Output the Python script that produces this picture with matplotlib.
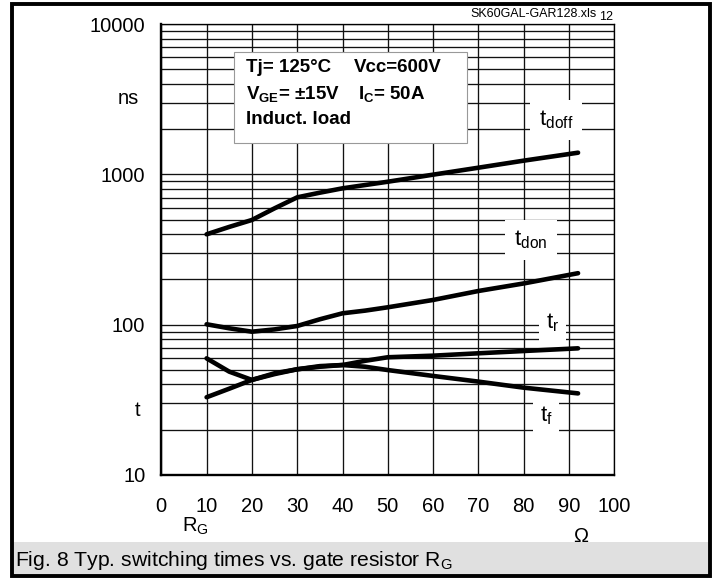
import matplotlib
matplotlib.use('Agg')
import matplotlib.pyplot as plt
from matplotlib.patches import Rectangle
from matplotlib.ticker import LogLocator, NullFormatter

# Data (R_G in Ohm, times in ns)
rg_doff = [10, 15, 20, 25, 30, 35, 40, 50, 60, 70, 80, 92]
t_doff = [399, 447, 497, 594, 703, 755, 807, 893, 995, 1107, 1233, 1393]

rg_don = [10, 15, 20, 25, 30, 35, 40, 45, 50, 60, 70, 80, 92]
t_don = [100.6, 94.6, 89.8, 93, 98, 108.6, 119, 124, 130.5, 146, 167.5, 188, 220]

rg_rf = [10, 15, 20, 25, 30, 35, 40, 45, 50, 60, 70, 80, 92]
t_r = [32.9, 37.5, 42.9, 46.9, 50.5, 52.5, 53.9, 57.5, 60.7, 62.2, 64.5, 66.8, 69.6]
t_f = [59.7, 48.7, 42.9, 47.5, 50.5, 53, 53.9, 52.5, 49.9, 45.6, 41.8, 38.1, 34.9]

x_ticks = [0, 10, 20, 30, 40, 50, 60, 70, 80, 90, 100]
y_ticks = [10, 100, 1000, 10000]
y_tick_labels = ['10', '100', '1000', '10000']

# label text, x, y, box pad
curve_labels = [
    (r't$_{\mathrm{doff}}$', 87.1, 2296, 0.4),
    (r't$_{\mathrm{don}}$', 81.6, 365, 0.4),
    (r't$_{\mathrm{r}}$', 86.4, 102.6, 0.3),
    (r't$_{\mathrm{f}}$', 84.9, 24.7, 0.3),
]

plt.rcParams['font.family'] = ['Liberation Sans', 'DejaVu Sans']
plt.rcParams['mathtext.fontset'] = 'custom'
plt.rcParams['mathtext.rm'] = 'Liberation Sans'
plt.rcParams['mathtext.it'] = 'Liberation Sans:italic'
plt.rcParams['mathtext.bf'] = 'Liberation Sans:bold'

W, H = 719, 586


def fx(px):
    return px / W


def fy(py):
    return 1 - py / H


fig = plt.figure(figsize=(W / 100, H / 100), dpi=100)
ax = fig.add_axes([fx(161.3), fy(475), fx(614.3) - fx(161.3), fy(24) - fy(475)])

ax.set_yscale('log')
ax.set_xlim(0, 100)
ax.set_ylim(10, 10000)
ax.set_xticks(x_ticks)
ax.set_xticklabels([str(v) for v in x_ticks])
ax.set_yticks(y_ticks)
ax.set_yticklabels(y_tick_labels)
ax.yaxis.set_minor_locator(LogLocator(base=10, subs=range(2, 10)))
ax.yaxis.set_minor_formatter(NullFormatter())
ax.tick_params(which='both', length=0)
ax.tick_params(axis='x', pad=16, labelsize=14.5)
ax.tick_params(axis='y', pad=11.5, labelsize=14.5)
ax.grid(True, which='major', color='#111111', lw=0.95)
ax.grid(True, which='minor', axis='y', color='#111111', lw=0.95)
ax.set_axisbelow(True)
for side in ['left', 'bottom']:
    ax.spines[side].set_linewidth(1.7)
for side in ['top', 'right']:
    ax.spines[side].set_linewidth(0.95)

# curves
for xs, ys in [(rg_doff, t_doff), (rg_don, t_don), (rg_rf, t_r), (rg_rf, t_f)]:
    ax.plot(xs, ys, color='black', lw=3.3, solid_capstyle='round', zorder=4)

for name, lx, ly, pad in curve_labels:
    ax.text(lx, ly, name, ha='center', va='center', fontsize=16,
            bbox=dict(boxstyle='square,pad=%s' % pad, fc='white', ec='none'), zorder=3)

# condition box
fig.add_artist(Rectangle((fx(234), fy(143)), fx(467) - fx(234), fy(52) - fy(143),
                         transform=fig.transFigure, fc='white', ec='#999999', lw=0.8, zorder=2))
box_kw = dict(fontsize=13.5, fontweight='bold', va='baseline', zorder=3)
fig.text(fx(246), fy(71.7), 'Tj= 125°C', **box_kw)
fig.text(fx(354), fy(71.7), 'Vcc=600V', **box_kw)
fig.text(fx(246), fy(99), r'V$_{\mathbf{GE}}$= ±15V', **box_kw)
fig.text(fx(358), fy(99), r'I$_{\mathbf{C}}$= 50A', **box_kw)
fig.text(fx(246), fy(124), 'Induct. load', **box_kw)

# axis annotations
fig.text(fx(139), fy(98), 'ns', fontsize=14.5, ha='right', va='center')
fig.text(fx(138), fy(410), 't', fontsize=14.5, ha='center', va='center')
fig.text(fx(182), fy(532), r'R$_{\mathrm{G}}$', fontsize=14.5, ha='left', va='baseline')
fig.text(fx(580.5), fy(542), 'Ω', fontsize=14.5, ha='center', va='baseline', zorder=1)
fig.text(fx(597), fy(17), 'SK60GAL-GAR128.xls', fontsize=9, ha='right', va='baseline')
fig.text(fx(599), fy(20), '12', fontsize=9, ha='left', va='baseline')

# caption band and outer frame
fig.add_artist(Rectangle((fx(12), fy(574)), fx(708) - fx(12), fy(542) - fy(574),
                         transform=fig.transFigure, fc='#e0e0e0', ec='none', zorder=2))
fig.text(fx(15), fy(566), r'Fig. 8 Typ. switching times vs. gate resistor R$_{\mathrm{G}}$',
         fontsize=15.2, ha='left', va='baseline', zorder=3)
fig.add_artist(Rectangle((fx(12), fy(575.5)), fx(710) - fx(12), fy(4) - fy(575.5),
                         transform=fig.transFigure, fill=False, ec='black', lw=2.8, zorder=5))

fig.savefig('out.png', dpi=100)
